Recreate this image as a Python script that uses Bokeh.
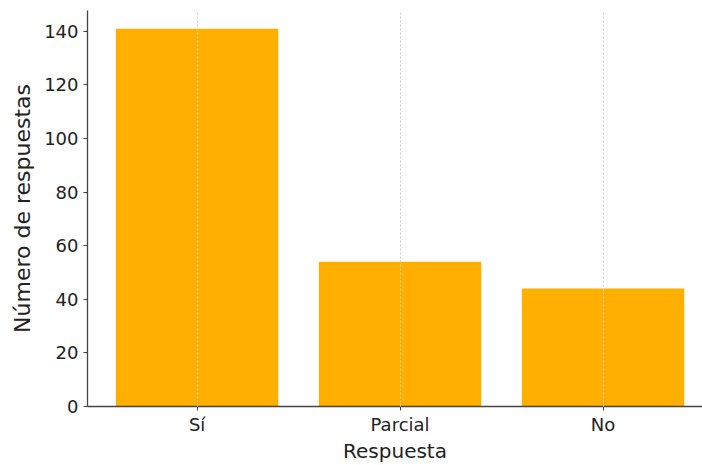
from bokeh.plotting import figure
from bokeh.models import FixedTicker, Range1d
from bokeh.embed import file_html
from bokeh.resources import INLINE

categories = ["Sí", "Parcial", "No"]
values = [141, 54, 44]
y_ticks = [0, 20, 40, 60, 80, 100, 120, 140]

xs = list(range(len(categories)))

p = figure(width=702, height=465, output_backend="svg", toolbar_location=None,
           x_range=Range1d(-0.54, 2.49), y_range=Range1d(0, 147.8),
           min_border_left=87, min_border_top=10, min_border_bottom=54, min_border_right=0)
p.outline_line_color = None
p.background_fill_color = "white"
p.border_fill_color = "white"

p.vbar(x=xs, top=values, width=0.8, bottom=0, fill_color="#FFAF00", line_color=None)

p.xaxis.ticker = FixedTicker(ticks=xs)
p.xaxis.major_label_overrides = {i: c for i, c in enumerate(categories)}
p.yaxis.ticker = FixedTicker(ticks=y_ticks)

for ax in (p.xaxis[0], p.yaxis[0]):
    ax.axis_line_color = "#444444"
    ax.axis_line_width = 1.3
    ax.major_tick_line_color = "#444444"
    ax.major_tick_out = 4
    ax.major_tick_in = 0
    ax.minor_tick_line_color = None
    ax.major_label_text_font = "DejaVu Sans"
    ax.major_label_text_font_size = "18px"
    ax.major_label_text_color = "#222222"
    ax.axis_label_text_font = "DejaVu Sans"
    ax.axis_label_text_font_size = "20px"
    ax.axis_label_text_font_style = "normal"
    ax.axis_label_text_color = "#222222"

p.xaxis.axis_label = "Respuesta"
p.yaxis.axis_label = "Número de respuestas"
p.yaxis.axis_label_text_font_size = "22px"
p.xaxis.axis_label_standoff = 1
p.yaxis.axis_label_standoff = 6
p.xaxis.major_label_standoff = 3
p.yaxis.major_label_standoff = 5

p.ygrid.grid_line_color = None
p.xgrid.grid_line_color = "#cfcfcf"
p.xgrid.grid_line_dash = "2 2"
p.xgrid.grid_line_width = 1
p.xgrid.level = "overlay"

open("out.html", "w").write(file_html(p, INLINE))
